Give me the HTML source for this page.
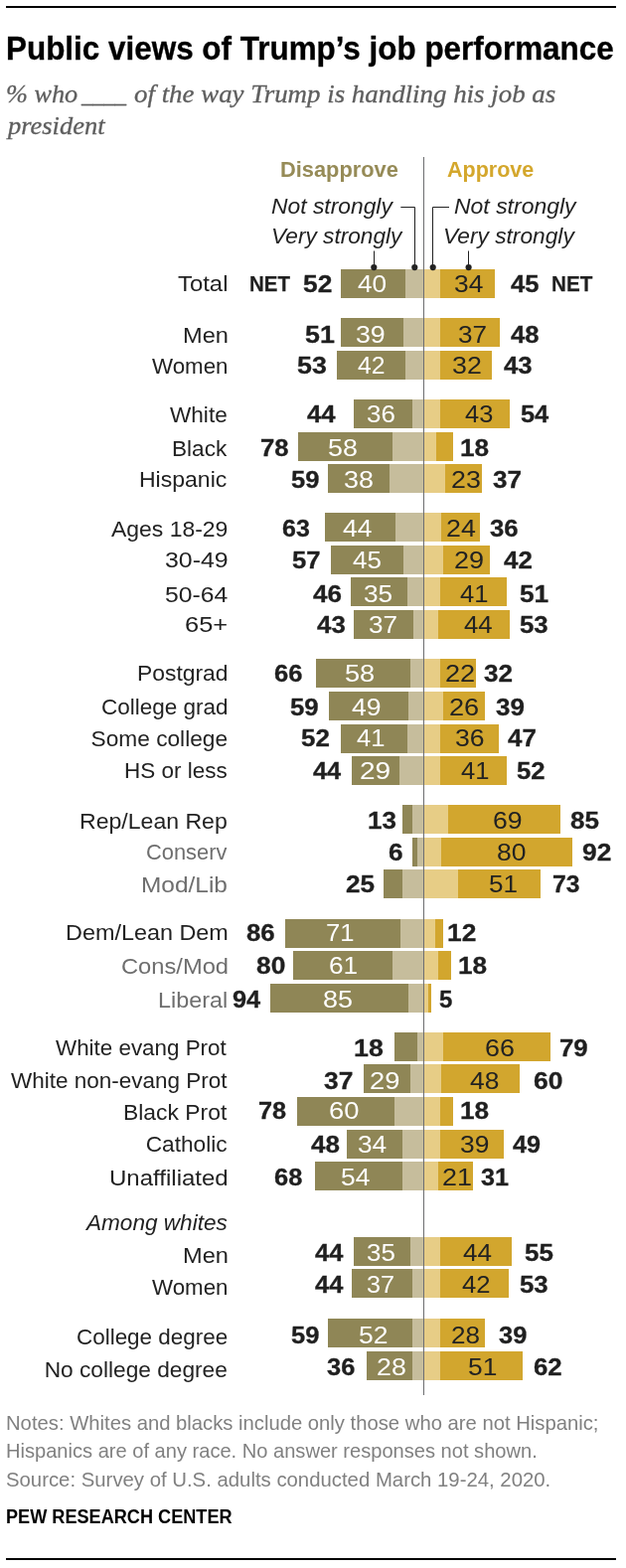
<!DOCTYPE html>
<html lang="en"><head><meta charset="utf-8"><title>Public views of Trump's job performance</title>
<style>
html,body{margin:0;padding:0;background:#fff}
#c{position:relative;width:630px;height:1578px;overflow:hidden;background:#fff;font-family:"Liberation Sans",sans-serif}
.t{position:absolute;white-space:nowrap;transform-origin:0 0}
.b{font-weight:bold}
.i{font-style:italic}
.sf{font-family:"Liberation Serif",serif}
.r{position:absolute}
svg{position:absolute;left:0;top:0}
</style></head><body><div id="c">
<div class="r" style="left:6.00px;top:6.00px;width:614.00px;height:2.00px;background:#000"></div>
<div class="r" style="left:6.00px;top:1568.00px;width:614.00px;height:2.00px;background:#000"></div>
<div class="t b" style="left:5.86px;top:30.24px;font-size:32.5px;line-height:39px;color:#000;transform:scaleX(0.9669);-webkit-text-stroke:0.35px #000;">Public views of Trump’s job performance</div>
<div class="t i sf" style="left:5.56px;top:80.13px;font-size:24.5px;line-height:29px;color:#5e5e5e;transform:scaleX(1.0721);-webkit-text-stroke:0.3px #5e5e5e;">% who</div>
<div class="t i sf" style="left:81.93px;top:80.13px;font-size:24.5px;line-height:29px;color:#5e5e5e;transform:scaleX(0.9214);-webkit-text-stroke:0.3px #5e5e5e;">____</div>
<div class="t i sf" style="left:134.89px;top:80.13px;font-size:24.5px;line-height:29px;color:#5e5e5e;transform:scaleX(1.0973);-webkit-text-stroke:0.3px #5e5e5e;">of the way Trump is handling his job as</div>
<div class="t i sf" style="left:7.89px;top:112.03px;font-size:24.5px;line-height:29px;color:#5e5e5e;transform:scaleX(1.0808);-webkit-text-stroke:0.3px #5e5e5e;">president</div>
<div class="t b" style="left:282.48px;top:157.82px;font-size:21.6px;line-height:26px;color:#968b57;transform:scaleX(1.0108);">Disapprove</div>
<div class="t b" style="left:450.46px;top:157.82px;font-size:21.6px;line-height:26px;color:#d4a72c;transform:scaleX(0.9966);">Approve</div>
<div class="t i" style="left:273.21px;top:194.88px;font-size:22px;line-height:26px;color:#222;transform:scaleX(1.0381);">Not strongly</div>
<div class="t i" style="left:273.27px;top:225.18px;font-size:22px;line-height:26px;color:#222;transform:scaleX(1.0305);">Very strongly</div>
<div class="t i" style="left:457.31px;top:194.88px;font-size:22px;line-height:26px;color:#222;transform:scaleX(1.0441);">Not strongly</div>
<div class="t i" style="left:446.07px;top:225.18px;font-size:22px;line-height:26px;color:#222;transform:scaleX(1.0329);">Very strongly</div>
<div class="t" style="left:179.12px;top:272.33px;font-size:22.7px;line-height:27px;color:#222;transform:scaleX(1.0529);">Total</div>
<div class="r" style="left:342.70px;top:270.65px;width:65.60px;height:29.00px;background:#8f8656"></div>
<div class="r" style="left:408.30px;top:270.65px;width:17.70px;height:29.00px;background:#c6bd9c"></div>
<div class="r" style="left:427.00px;top:270.65px;width:16.00px;height:29.00px;background:#e7cd86"></div>
<div class="r" style="left:443.00px;top:270.65px;width:55.30px;height:29.00px;background:#d2a62e"></div>
<div class="t b" style="left:304.81px;top:271.73px;font-size:23px;line-height:28px;color:#1f1f1f;transform:scaleX(1.1455);-webkit-text-stroke:0.3px #1f1f1f;">52</div>
<div class="t b" style="left:513.92px;top:271.73px;font-size:23px;line-height:28px;color:#1f1f1f;transform:scaleX(1.1134);-webkit-text-stroke:0.3px #1f1f1f;">45</div>
<div class="t" style="left:359.88px;top:271.73px;font-size:23px;line-height:28px;color:#fff;transform:scaleX(1.1374);">40</div>
<div class="t" style="left:457.25px;top:271.73px;font-size:23px;line-height:28px;color:#222;transform:scaleX(1.1455);">34</div>
<div class="t b" style="left:251.27px;top:273.15px;font-size:21.8px;line-height:26px;color:#1f1f1f;transform:scaleX(0.9389);-webkit-text-stroke:0.25px #1f1f1f;">NET</div>
<div class="t b" style="left:554.66px;top:273.15px;font-size:21.8px;line-height:26px;color:#1f1f1f;transform:scaleX(0.9460);-webkit-text-stroke:0.25px #1f1f1f;">NET</div>
<div class="t" style="left:183.61px;top:323.63px;font-size:22.7px;line-height:27px;color:#222;transform:scaleX(1.0401);">Men</div>
<div class="r" style="left:342.70px;top:320.35px;width:63.30px;height:29.00px;background:#8f8656"></div>
<div class="r" style="left:406.00px;top:320.35px;width:20.00px;height:29.00px;background:#c6bd9c"></div>
<div class="r" style="left:427.00px;top:320.35px;width:16.00px;height:29.00px;background:#e7cd86"></div>
<div class="r" style="left:443.00px;top:320.35px;width:59.70px;height:29.00px;background:#d2a62e"></div>
<div class="t b" style="left:306.90px;top:323.03px;font-size:23px;line-height:28px;color:#1f1f1f;transform:scaleX(1.1663);-webkit-text-stroke:0.3px #1f1f1f;">51</div>
<div class="t b" style="left:513.91px;top:323.03px;font-size:23px;line-height:28px;color:#1f1f1f;transform:scaleX(1.1186);-webkit-text-stroke:0.3px #1f1f1f;">48</div>
<div class="t" style="left:358.23px;top:323.03px;font-size:23px;line-height:28px;color:#fff;transform:scaleX(1.1622);">39</div>
<div class="t" style="left:460.66px;top:323.03px;font-size:23px;line-height:28px;color:#222;transform:scaleX(1.1338);">37</div>
<div class="t" style="left:152.99px;top:355.03px;font-size:22.7px;line-height:27px;color:#222;transform:scaleX(0.9835);">Women</div>
<div class="r" style="left:339.30px;top:352.95px;width:69.00px;height:29.00px;background:#8f8656"></div>
<div class="r" style="left:408.30px;top:352.95px;width:17.70px;height:29.00px;background:#c6bd9c"></div>
<div class="r" style="left:427.00px;top:352.95px;width:16.00px;height:29.00px;background:#e7cd86"></div>
<div class="r" style="left:443.00px;top:352.95px;width:52.00px;height:29.00px;background:#d2a62e"></div>
<div class="t b" style="left:298.50px;top:354.43px;font-size:23px;line-height:28px;color:#1f1f1f;transform:scaleX(1.1650);-webkit-text-stroke:0.3px #1f1f1f;">53</div>
<div class="t b" style="left:507.31px;top:354.43px;font-size:23px;line-height:28px;color:#1f1f1f;transform:scaleX(1.1198);-webkit-text-stroke:0.3px #1f1f1f;">43</div>
<div class="t" style="left:359.51px;top:354.43px;font-size:23px;line-height:28px;color:#fff;transform:scaleX(1.0744);">42</div>
<div class="t" style="left:454.93px;top:354.43px;font-size:23px;line-height:28px;color:#222;transform:scaleX(1.1637);">32</div>
<div class="t" style="left:171.29px;top:403.63px;font-size:22.7px;line-height:27px;color:#222;transform:scaleX(0.9954);">White</div>
<div class="r" style="left:356.00px;top:401.95px;width:59.00px;height:29.00px;background:#8f8656"></div>
<div class="r" style="left:415.00px;top:401.95px;width:11.00px;height:29.00px;background:#c6bd9c"></div>
<div class="r" style="left:427.00px;top:401.95px;width:16.00px;height:29.00px;background:#e7cd86"></div>
<div class="r" style="left:443.00px;top:401.95px;width:69.70px;height:29.00px;background:#d2a62e"></div>
<div class="t b" style="left:308.91px;top:403.03px;font-size:23px;line-height:28px;color:#1f1f1f;transform:scaleX(1.1169);-webkit-text-stroke:0.3px #1f1f1f;">44</div>
<div class="t b" style="left:524.24px;top:403.03px;font-size:23px;line-height:28px;color:#1f1f1f;transform:scaleX(1.1041);-webkit-text-stroke:0.3px #1f1f1f;">54</div>
<div class="t" style="left:368.96px;top:403.03px;font-size:23px;line-height:28px;color:#fff;transform:scaleX(1.1271);">36</div>
<div class="t" style="left:468.49px;top:403.03px;font-size:23px;line-height:28px;color:#222;transform:scaleX(1.1056);">43</div>
<div class="t" style="left:172.69px;top:437.63px;font-size:22.7px;line-height:27px;color:#222;transform:scaleX(0.9965);">Black</div>
<div class="r" style="left:300.00px;top:434.65px;width:95.00px;height:29.00px;background:#8f8656"></div>
<div class="r" style="left:395.00px;top:434.65px;width:31.00px;height:29.00px;background:#c6bd9c"></div>
<div class="r" style="left:427.00px;top:434.65px;width:12.30px;height:29.00px;background:#e7cd86"></div>
<div class="r" style="left:439.30px;top:434.65px;width:16.40px;height:29.00px;background:#d2a62e"></div>
<div class="t b" style="left:262.27px;top:437.03px;font-size:23px;line-height:28px;color:#1f1f1f;transform:scaleX(1.1162);-webkit-text-stroke:0.3px #1f1f1f;">78</div>
<div class="t b" style="left:463.43px;top:437.03px;font-size:23px;line-height:28px;color:#1f1f1f;transform:scaleX(1.1381);-webkit-text-stroke:0.3px #1f1f1f;">18</div>
<div class="t" style="left:329.63px;top:437.03px;font-size:23px;line-height:28px;color:#fff;transform:scaleX(1.1650);">58</div>
<div class="t" style="left:140.26px;top:469.33px;font-size:22.7px;line-height:27px;color:#222;transform:scaleX(1.0145);">Hispanic</div>
<div class="r" style="left:330.00px;top:467.35px;width:62.30px;height:29.00px;background:#8f8656"></div>
<div class="r" style="left:392.30px;top:467.35px;width:33.70px;height:29.00px;background:#c6bd9c"></div>
<div class="r" style="left:427.00px;top:467.35px;width:20.70px;height:29.00px;background:#e7cd86"></div>
<div class="r" style="left:447.70px;top:467.35px;width:37.30px;height:29.00px;background:#d2a62e"></div>
<div class="t b" style="left:293.23px;top:468.73px;font-size:23px;line-height:28px;color:#1f1f1f;transform:scaleX(1.1109);-webkit-text-stroke:0.3px #1f1f1f;">59</div>
<div class="t b" style="left:496.05px;top:468.73px;font-size:23px;line-height:28px;color:#1f1f1f;transform:scaleX(1.1358);-webkit-text-stroke:0.3px #1f1f1f;">37</div>
<div class="t" style="left:346.22px;top:468.73px;font-size:23px;line-height:28px;color:#fff;transform:scaleX(1.1693);">38</div>
<div class="t" style="left:453.66px;top:468.73px;font-size:23px;line-height:28px;color:#222;transform:scaleX(1.1637);">23</div>
<div class="t" style="left:111.60px;top:518.63px;font-size:22.7px;line-height:27px;color:#222;transform:scaleX(1.0114);">Ages 18-29</div>
<div class="r" style="left:326.70px;top:516.35px;width:71.00px;height:29.00px;background:#8f8656"></div>
<div class="r" style="left:397.70px;top:516.35px;width:28.30px;height:29.00px;background:#c6bd9c"></div>
<div class="r" style="left:427.00px;top:516.35px;width:17.30px;height:29.00px;background:#e7cd86"></div>
<div class="r" style="left:444.30px;top:516.35px;width:39.00px;height:29.00px;background:#d2a62e"></div>
<div class="t b" style="left:284.12px;top:518.03px;font-size:23px;line-height:28px;color:#1f1f1f;transform:scaleX(1.0870);-webkit-text-stroke:0.3px #1f1f1f;">63</div>
<div class="t b" style="left:493.36px;top:518.03px;font-size:23px;line-height:28px;color:#1f1f1f;transform:scaleX(1.1180);-webkit-text-stroke:0.3px #1f1f1f;">36</div>
<div class="t" style="left:345.47px;top:518.03px;font-size:23px;line-height:28px;color:#fff;transform:scaleX(1.1485);">44</div>
<div class="t" style="left:449.36px;top:518.03px;font-size:23px;line-height:28px;color:#222;transform:scaleX(1.1650);">24</div>
<div class="t" style="left:165.50px;top:550.33px;font-size:22.7px;line-height:27px;color:#222;transform:scaleX(1.0969);">30-49</div>
<div class="r" style="left:333.30px;top:548.65px;width:72.70px;height:29.00px;background:#8f8656"></div>
<div class="r" style="left:406.00px;top:548.65px;width:20.00px;height:29.00px;background:#c6bd9c"></div>
<div class="r" style="left:427.00px;top:548.65px;width:19.00px;height:29.00px;background:#e7cd86"></div>
<div class="r" style="left:446.00px;top:548.65px;width:47.30px;height:29.00px;background:#d2a62e"></div>
<div class="t b" style="left:294.23px;top:549.73px;font-size:23px;line-height:28px;color:#1f1f1f;transform:scaleX(1.1162);-webkit-text-stroke:0.3px #1f1f1f;">57</div>
<div class="t b" style="left:507.31px;top:549.73px;font-size:23px;line-height:28px;color:#1f1f1f;transform:scaleX(1.1251);-webkit-text-stroke:0.3px #1f1f1f;">42</div>
<div class="t" style="left:355.48px;top:549.73px;font-size:23px;line-height:28px;color:#fff;transform:scaleX(1.1304);">45</div>
<div class="t" style="left:456.95px;top:549.73px;font-size:23px;line-height:28px;color:#222;transform:scaleX(1.1737);">29</div>
<div class="t" style="left:165.51px;top:584.83px;font-size:22.7px;line-height:27px;color:#222;transform:scaleX(1.0902);">50-64</div>
<div class="r" style="left:352.70px;top:581.35px;width:57.30px;height:29.00px;background:#8f8656"></div>
<div class="r" style="left:410.00px;top:581.35px;width:16.00px;height:29.00px;background:#c6bd9c"></div>
<div class="r" style="left:427.00px;top:581.35px;width:16.00px;height:29.00px;background:#e7cd86"></div>
<div class="r" style="left:443.00px;top:581.35px;width:67.00px;height:29.00px;background:#d2a62e"></div>
<div class="t b" style="left:315.31px;top:584.23px;font-size:23px;line-height:28px;color:#1f1f1f;transform:scaleX(1.1321);-webkit-text-stroke:0.3px #1f1f1f;">46</div>
<div class="t b" style="left:523.21px;top:584.23px;font-size:23px;line-height:28px;color:#1f1f1f;transform:scaleX(1.1416);-webkit-text-stroke:0.3px #1f1f1f;">51</div>
<div class="t" style="left:366.25px;top:584.23px;font-size:23px;line-height:28px;color:#fff;transform:scaleX(1.1397);">35</div>
<div class="t" style="left:463.49px;top:584.23px;font-size:23px;line-height:28px;color:#222;transform:scaleX(1.1109);">41</div>
<div class="t" style="left:186.13px;top:615.33px;font-size:22.7px;line-height:27px;color:#222;transform:scaleX(1.1213);">65+</div>
<div class="r" style="left:356.00px;top:613.95px;width:60.00px;height:29.00px;background:#8f8656"></div>
<div class="r" style="left:416.00px;top:613.95px;width:10.00px;height:29.00px;background:#c6bd9c"></div>
<div class="r" style="left:427.00px;top:613.95px;width:13.70px;height:29.00px;background:#e7cd86"></div>
<div class="r" style="left:440.70px;top:613.95px;width:72.00px;height:29.00px;background:#d2a62e"></div>
<div class="t b" style="left:318.91px;top:614.73px;font-size:23px;line-height:28px;color:#1f1f1f;transform:scaleX(1.1239);-webkit-text-stroke:0.3px #1f1f1f;">43</div>
<div class="t b" style="left:523.22px;top:614.73px;font-size:23px;line-height:28px;color:#1f1f1f;transform:scaleX(1.1234);-webkit-text-stroke:0.3px #1f1f1f;">53</div>
<div class="t" style="left:370.66px;top:614.73px;font-size:23px;line-height:28px;color:#fff;transform:scaleX(1.1338);">37</div>
<div class="t" style="left:467.18px;top:614.73px;font-size:23px;line-height:28px;color:#222;transform:scaleX(1.1198);">44</div>
<div class="t" style="left:137.97px;top:664.33px;font-size:22.7px;line-height:27px;color:#222;transform:scaleX(1.0079);">Postgrad</div>
<div class="r" style="left:318.30px;top:662.95px;width:95.00px;height:29.00px;background:#8f8656"></div>
<div class="r" style="left:413.30px;top:662.95px;width:12.70px;height:29.00px;background:#c6bd9c"></div>
<div class="r" style="left:427.00px;top:662.95px;width:16.00px;height:29.00px;background:#e7cd86"></div>
<div class="r" style="left:443.00px;top:662.95px;width:36.00px;height:29.00px;background:#d2a62e"></div>
<div class="t b" style="left:275.80px;top:663.73px;font-size:23px;line-height:28px;color:#1f1f1f;transform:scaleX(1.1120);-webkit-text-stroke:0.3px #1f1f1f;">66</div>
<div class="t b" style="left:487.05px;top:663.73px;font-size:23px;line-height:28px;color:#1f1f1f;transform:scaleX(1.1358);-webkit-text-stroke:0.3px #1f1f1f;">32</div>
<div class="t" style="left:346.61px;top:663.73px;font-size:23px;line-height:28px;color:#fff;transform:scaleX(1.1819);">58</div>
<div class="t" style="left:447.94px;top:663.73px;font-size:23px;line-height:28px;color:#222;transform:scaleX(1.1795);">22</div>
<div class="t" style="left:101.77px;top:698.43px;font-size:22.7px;line-height:27px;color:#222;transform:scaleX(0.9921);">College grad</div>
<div class="r" style="left:331.20px;top:695.65px;width:80.00px;height:29.00px;background:#8f8656"></div>
<div class="r" style="left:411.20px;top:695.65px;width:14.80px;height:29.00px;background:#c6bd9c"></div>
<div class="r" style="left:427.00px;top:695.65px;width:19.00px;height:29.00px;background:#e7cd86"></div>
<div class="r" style="left:446.00px;top:695.65px;width:42.30px;height:29.00px;background:#d2a62e"></div>
<div class="t b" style="left:291.52px;top:697.83px;font-size:23px;line-height:28px;color:#1f1f1f;transform:scaleX(1.1234);-webkit-text-stroke:0.3px #1f1f1f;">59</div>
<div class="t b" style="left:499.35px;top:697.83px;font-size:23px;line-height:28px;color:#1f1f1f;transform:scaleX(1.1304);-webkit-text-stroke:0.3px #1f1f1f;">39</div>
<div class="t" style="left:354.47px;top:697.83px;font-size:23px;line-height:28px;color:#fff;transform:scaleX(1.1525);">49</div>
<div class="t" style="left:451.94px;top:697.83px;font-size:23px;line-height:28px;color:#222;transform:scaleX(1.1807);">26</div>
<div class="t" style="left:91.58px;top:729.93px;font-size:22.7px;line-height:27px;color:#222;">Some college</div>
<div class="r" style="left:343.30px;top:728.65px;width:66.70px;height:29.00px;background:#8f8656"></div>
<div class="r" style="left:410.00px;top:728.65px;width:16.00px;height:29.00px;background:#c6bd9c"></div>
<div class="r" style="left:427.00px;top:728.65px;width:16.30px;height:29.00px;background:#e7cd86"></div>
<div class="r" style="left:443.30px;top:728.65px;width:58.40px;height:29.00px;background:#d2a62e"></div>
<div class="t b" style="left:303.22px;top:729.33px;font-size:23px;line-height:28px;color:#1f1f1f;transform:scaleX(1.1288);-webkit-text-stroke:0.3px #1f1f1f;">52</div>
<div class="t b" style="left:511.31px;top:729.33px;font-size:23px;line-height:28px;color:#1f1f1f;transform:scaleX(1.1251);-webkit-text-stroke:0.3px #1f1f1f;">47</div>
<div class="t" style="left:359.49px;top:729.33px;font-size:23px;line-height:28px;color:#fff;transform:scaleX(1.1109);">41</div>
<div class="t" style="left:458.24px;top:729.33px;font-size:23px;line-height:28px;color:#222;transform:scaleX(1.1566);">36</div>
<div class="t" style="left:125.10px;top:762.13px;font-size:22.7px;line-height:27px;color:#222;transform:scaleX(0.9908);">HS or less</div>
<div class="r" style="left:354.30px;top:761.35px;width:47.40px;height:29.00px;background:#8f8656"></div>
<div class="r" style="left:401.70px;top:761.35px;width:24.30px;height:29.00px;background:#c6bd9c"></div>
<div class="r" style="left:427.00px;top:761.35px;width:16.00px;height:29.00px;background:#e7cd86"></div>
<div class="r" style="left:443.00px;top:761.35px;width:67.00px;height:29.00px;background:#d2a62e"></div>
<div class="t b" style="left:315.32px;top:762.33px;font-size:23px;line-height:28px;color:#1f1f1f;transform:scaleX(1.1009);-webkit-text-stroke:0.3px #1f1f1f;">44</div>
<div class="t b" style="left:520.23px;top:762.33px;font-size:23px;line-height:28px;color:#1f1f1f;transform:scaleX(1.1162);-webkit-text-stroke:0.3px #1f1f1f;">52</div>
<div class="t" style="left:361.90px;top:762.33px;font-size:23px;line-height:28px;color:#fff;transform:scaleX(1.2165);">29</div>
<div class="t" style="left:464.49px;top:762.33px;font-size:23px;line-height:28px;color:#222;transform:scaleX(1.1109);">41</div>
<div class="t" style="left:80.05px;top:812.63px;font-size:22.7px;line-height:27px;color:#222;transform:scaleX(1.0168);">Rep/Lean Rep</div>
<div class="r" style="left:405.00px;top:810.35px;width:10.00px;height:29.00px;background:#8f8656"></div>
<div class="r" style="left:415.00px;top:810.35px;width:11.00px;height:29.00px;background:#c6bd9c"></div>
<div class="r" style="left:427.00px;top:810.35px;width:24.00px;height:29.00px;background:#e7cd86"></div>
<div class="r" style="left:451.00px;top:810.35px;width:113.00px;height:29.00px;background:#d2a62e"></div>
<div class="t b" style="left:369.74px;top:812.03px;font-size:23px;line-height:28px;color:#1f1f1f;transform:scaleX(1.1309);-webkit-text-stroke:0.3px #1f1f1f;">13</div>
<div class="t b" style="left:574.22px;top:812.03px;font-size:23px;line-height:28px;color:#1f1f1f;transform:scaleX(1.1333);-webkit-text-stroke:0.3px #1f1f1f;">85</div>
<div class="t" style="left:495.97px;top:812.03px;font-size:23px;line-height:28px;color:#222;transform:scaleX(1.1566);">69</div>
<div class="t" style="left:146.71px;top:844.23px;font-size:22.7px;line-height:27px;color:#6e6e6e;transform:scaleX(0.9627);">Conserv</div>
<div class="r" style="left:415.00px;top:842.95px;width:5.00px;height:29.00px;background:#8f8656"></div>
<div class="r" style="left:420.00px;top:842.95px;width:6.00px;height:29.00px;background:#c6bd9c"></div>
<div class="r" style="left:427.00px;top:842.95px;width:17.30px;height:29.00px;background:#e7cd86"></div>
<div class="r" style="left:444.30px;top:842.95px;width:131.40px;height:29.00px;background:#d2a62e"></div>
<div class="t b" style="left:391.38px;top:843.63px;font-size:23px;line-height:28px;color:#1f1f1f;transform:scaleX(1.1385);-webkit-text-stroke:0.3px #1f1f1f;">6</div>
<div class="t b" style="left:585.78px;top:843.63px;font-size:23px;line-height:28px;color:#1f1f1f;transform:scaleX(1.1468);-webkit-text-stroke:0.3px #1f1f1f;">92</div>
<div class="t" style="left:499.81px;top:843.63px;font-size:23px;line-height:28px;color:#222;transform:scaleX(1.1524);">80</div>
<div class="t" style="left:142.04px;top:876.63px;font-size:22.7px;line-height:27px;color:#6e6e6e;transform:scaleX(1.0773);">Mod/Lib</div>
<div class="r" style="left:385.70px;top:875.35px;width:19.30px;height:29.00px;background:#8f8656"></div>
<div class="r" style="left:405.00px;top:875.35px;width:21.00px;height:29.00px;background:#c6bd9c"></div>
<div class="r" style="left:427.00px;top:875.35px;width:34.00px;height:29.00px;background:#e7cd86"></div>
<div class="r" style="left:461.00px;top:875.35px;width:83.30px;height:29.00px;background:#d2a62e"></div>
<div class="t b" style="left:348.39px;top:876.03px;font-size:23px;line-height:28px;color:#1f1f1f;transform:scaleX(1.1346);-webkit-text-stroke:0.3px #1f1f1f;">25</div>
<div class="t b" style="left:555.71px;top:876.03px;font-size:23px;line-height:28px;color:#1f1f1f;transform:scaleX(1.0754);-webkit-text-stroke:0.3px #1f1f1f;">73</div>
<div class="t" style="left:492.26px;top:876.03px;font-size:23px;line-height:28px;color:#222;transform:scaleX(1.1326);">51</div>
<div class="t" style="left:65.53px;top:925.33px;font-size:22.7px;line-height:27px;color:#222;transform:scaleX(1.0313);">Dem/Lean Dem</div>
<div class="r" style="left:287.30px;top:924.65px;width:115.40px;height:29.00px;background:#8f8656"></div>
<div class="r" style="left:402.70px;top:924.65px;width:23.30px;height:29.00px;background:#c6bd9c"></div>
<div class="r" style="left:427.00px;top:924.65px;width:11.30px;height:29.00px;background:#e7cd86"></div>
<div class="r" style="left:438.30px;top:924.65px;width:7.40px;height:29.00px;background:#d2a62e"></div>
<div class="t b" style="left:248.22px;top:924.73px;font-size:23px;line-height:28px;color:#1f1f1f;transform:scaleX(1.1234);-webkit-text-stroke:0.3px #1f1f1f;">86</div>
<div class="t b" style="left:450.12px;top:924.73px;font-size:23px;line-height:28px;color:#1f1f1f;transform:scaleX(1.1451);-webkit-text-stroke:0.3px #1f1f1f;">12</div>
<div class="t" style="left:327.72px;top:924.73px;font-size:23px;line-height:28px;color:#fff;transform:scaleX(1.1137);">71</div>
<div class="t" style="left:121.51px;top:958.83px;font-size:22.7px;line-height:27px;color:#6e6e6e;transform:scaleX(1.0448);">Cons/Mod</div>
<div class="r" style="left:295.10px;top:956.95px;width:99.90px;height:29.00px;background:#8f8656"></div>
<div class="r" style="left:395.00px;top:956.95px;width:31.00px;height:29.00px;background:#c6bd9c"></div>
<div class="r" style="left:427.00px;top:956.95px;width:13.70px;height:29.00px;background:#e7cd86"></div>
<div class="r" style="left:440.70px;top:956.95px;width:13.30px;height:29.00px;background:#d2a62e"></div>
<div class="t b" style="left:257.51px;top:958.23px;font-size:23px;line-height:28px;color:#1f1f1f;transform:scaleX(1.1455);-webkit-text-stroke:0.3px #1f1f1f;">80</div>
<div class="t b" style="left:460.73px;top:958.23px;font-size:23px;line-height:28px;color:#1f1f1f;transform:scaleX(1.1381);-webkit-text-stroke:0.3px #1f1f1f;">18</div>
<div class="t" style="left:331.39px;top:958.23px;font-size:23px;line-height:28px;color:#fff;transform:scaleX(1.1394);">61</div>
<div class="t" style="left:159.33px;top:992.73px;font-size:22.7px;line-height:27px;color:#6e6e6e;transform:scaleX(1.0307);">Liberal</div>
<div class="r" style="left:272.30px;top:989.65px;width:138.80px;height:29.00px;background:#8f8656"></div>
<div class="r" style="left:411.10px;top:989.65px;width:14.90px;height:29.00px;background:#c6bd9c"></div>
<div class="r" style="left:427.00px;top:989.65px;width:4.30px;height:29.00px;background:#e7cd86"></div>
<div class="r" style="left:431.30px;top:989.65px;width:3.00px;height:29.00px;background:#d2a62e"></div>
<div class="t b" style="left:234.31px;top:992.13px;font-size:23px;line-height:28px;color:#1f1f1f;transform:scaleX(1.1012);-webkit-text-stroke:0.3px #1f1f1f;">94</div>
<div class="t b" style="left:442.28px;top:992.13px;font-size:23px;line-height:28px;color:#1f1f1f;transform:scaleX(1.0435);-webkit-text-stroke:0.3px #1f1f1f;">5</div>
<div class="t" style="left:325.49px;top:992.13px;font-size:23px;line-height:28px;color:#fff;transform:scaleX(1.1707);">85</div>
<div class="t" style="left:56.29px;top:1041.23px;font-size:22.7px;line-height:27px;color:#222;transform:scaleX(0.9869);">White evang Prot</div>
<div class="r" style="left:397.30px;top:1038.65px;width:22.70px;height:29.00px;background:#8f8656"></div>
<div class="r" style="left:420.00px;top:1038.65px;width:6.00px;height:29.00px;background:#c6bd9c"></div>
<div class="r" style="left:427.00px;top:1038.65px;width:19.00px;height:29.00px;background:#e7cd86"></div>
<div class="r" style="left:446.00px;top:1038.65px;width:108.00px;height:29.00px;background:#d2a62e"></div>
<div class="t b" style="left:356.09px;top:1040.63px;font-size:23px;line-height:28px;color:#1f1f1f;transform:scaleX(1.1637);-webkit-text-stroke:0.3px #1f1f1f;">18</div>
<div class="t b" style="left:562.97px;top:1040.63px;font-size:23px;line-height:28px;color:#1f1f1f;transform:scaleX(1.1216);-webkit-text-stroke:0.3px #1f1f1f;">79</div>
<div class="t" style="left:487.96px;top:1040.63px;font-size:23px;line-height:28px;color:#222;transform:scaleX(1.1679);">66</div>
<div class="t" style="left:10.59px;top:1074.23px;font-size:22.7px;line-height:27px;color:#222;transform:scaleX(0.9910);">White non-evang Prot</div>
<div class="r" style="left:366.00px;top:1071.35px;width:47.30px;height:29.00px;background:#8f8656"></div>
<div class="r" style="left:413.30px;top:1071.35px;width:12.70px;height:29.00px;background:#c6bd9c"></div>
<div class="r" style="left:427.00px;top:1071.35px;width:17.30px;height:29.00px;background:#e7cd86"></div>
<div class="r" style="left:444.30px;top:1071.35px;width:78.40px;height:29.00px;background:#d2a62e"></div>
<div class="t b" style="left:326.04px;top:1074.03px;font-size:23px;line-height:28px;color:#1f1f1f;transform:scaleX(1.1483);-webkit-text-stroke:0.3px #1f1f1f;">37</div>
<div class="t b" style="left:537.37px;top:1074.03px;font-size:23px;line-height:28px;color:#1f1f1f;transform:scaleX(1.1510);-webkit-text-stroke:0.3px #1f1f1f;">60</div>
<div class="t" style="left:371.94px;top:1074.03px;font-size:23px;line-height:28px;color:#fff;transform:scaleX(1.1865);">29</div>
<div class="t" style="left:472.77px;top:1074.03px;font-size:23px;line-height:28px;color:#222;transform:scaleX(1.1470);">48</div>
<div class="t" style="left:123.87px;top:1105.63px;font-size:22.7px;line-height:27px;color:#222;transform:scaleX(1.0082);">Black Prot</div>
<div class="r" style="left:299.00px;top:1103.95px;width:97.70px;height:29.00px;background:#8f8656"></div>
<div class="r" style="left:396.70px;top:1103.95px;width:29.30px;height:29.00px;background:#c6bd9c"></div>
<div class="r" style="left:427.00px;top:1103.95px;width:16.00px;height:29.00px;background:#e7cd86"></div>
<div class="r" style="left:443.00px;top:1103.95px;width:12.70px;height:29.00px;background:#d2a62e"></div>
<div class="t b" style="left:259.99px;top:1104.43px;font-size:23px;line-height:28px;color:#1f1f1f;transform:scaleX(1.0995);-webkit-text-stroke:0.3px #1f1f1f;">78</div>
<div class="t b" style="left:463.43px;top:1104.43px;font-size:23px;line-height:28px;color:#1f1f1f;transform:scaleX(1.1381);-webkit-text-stroke:0.3px #1f1f1f;">18</div>
<div class="t" style="left:331.33px;top:1104.43px;font-size:23px;line-height:28px;color:#fff;transform:scaleX(1.1877);">60</div>
<div class="t" style="left:146.67px;top:1137.53px;font-size:22.7px;line-height:27px;color:#222;">Catholic</div>
<div class="r" style="left:349.30px;top:1136.95px;width:55.70px;height:29.00px;background:#8f8656"></div>
<div class="r" style="left:405.00px;top:1136.95px;width:21.00px;height:29.00px;background:#c6bd9c"></div>
<div class="r" style="left:427.00px;top:1136.95px;width:16.00px;height:29.00px;background:#e7cd86"></div>
<div class="r" style="left:443.00px;top:1136.95px;width:63.70px;height:29.00px;background:#d2a62e"></div>
<div class="t b" style="left:312.91px;top:1137.83px;font-size:23px;line-height:28px;color:#1f1f1f;transform:scaleX(1.1308);-webkit-text-stroke:0.3px #1f1f1f;">48</div>
<div class="t b" style="left:515.62px;top:1137.83px;font-size:23px;line-height:28px;color:#1f1f1f;transform:scaleX(1.0952);-webkit-text-stroke:0.3px #1f1f1f;">49</div>
<div class="t" style="left:359.95px;top:1137.83px;font-size:23px;line-height:28px;color:#fff;transform:scaleX(1.1413);">34</div>
<div class="t" style="left:462.95px;top:1137.83px;font-size:23px;line-height:28px;color:#222;transform:scaleX(1.1453);">39</div>
<div class="t" style="left:109.80px;top:1172.23px;font-size:22.7px;line-height:27px;color:#222;transform:scaleX(1.0584);">Unaffiliated</div>
<div class="r" style="left:316.70px;top:1169.35px;width:88.30px;height:29.00px;background:#8f8656"></div>
<div class="r" style="left:405.00px;top:1169.35px;width:21.00px;height:29.00px;background:#c6bd9c"></div>
<div class="r" style="left:427.00px;top:1169.35px;width:13.70px;height:29.00px;background:#e7cd86"></div>
<div class="r" style="left:440.70px;top:1169.35px;width:35.00px;height:29.00px;background:#d2a62e"></div>
<div class="t b" style="left:275.81px;top:1170.73px;font-size:23px;line-height:28px;color:#1f1f1f;transform:scaleX(1.1067);-webkit-text-stroke:0.3px #1f1f1f;">68</div>
<div class="t b" style="left:483.67px;top:1170.73px;font-size:23px;line-height:28px;color:#1f1f1f;transform:scaleX(1.0952);-webkit-text-stroke:0.3px #1f1f1f;">31</div>
<div class="t" style="left:343.25px;top:1170.73px;font-size:23px;line-height:28px;color:#fff;transform:scaleX(1.1455);">54</div>
<div class="t" style="left:444.66px;top:1170.73px;font-size:23px;line-height:28px;color:#222;transform:scaleX(1.1694);">21</div>
<div class="t" style="left:183.61px;top:1249.63px;font-size:22.7px;line-height:27px;color:#222;transform:scaleX(1.0401);">Men</div>
<div class="r" style="left:356.00px;top:1244.65px;width:57.30px;height:29.00px;background:#8f8656"></div>
<div class="r" style="left:413.30px;top:1244.65px;width:12.70px;height:29.00px;background:#c6bd9c"></div>
<div class="r" style="left:427.00px;top:1244.65px;width:16.00px;height:29.00px;background:#e7cd86"></div>
<div class="r" style="left:443.00px;top:1244.65px;width:72.00px;height:29.00px;background:#d2a62e"></div>
<div class="t b" style="left:316.92px;top:1247.43px;font-size:23px;line-height:28px;color:#1f1f1f;transform:scaleX(1.1049);-webkit-text-stroke:0.3px #1f1f1f;">44</div>
<div class="t b" style="left:527.52px;top:1247.43px;font-size:23px;line-height:28px;color:#1f1f1f;transform:scaleX(1.1292);-webkit-text-stroke:0.3px #1f1f1f;">55</div>
<div class="t" style="left:368.96px;top:1247.43px;font-size:23px;line-height:28px;color:#fff;transform:scaleX(1.1271);">35</div>
<div class="t" style="left:466.18px;top:1247.43px;font-size:23px;line-height:28px;color:#222;transform:scaleX(1.1321);">44</div>
<div class="t" style="left:152.99px;top:1281.93px;font-size:22.7px;line-height:27px;color:#222;transform:scaleX(0.9835);">Women</div>
<div class="r" style="left:354.30px;top:1277.35px;width:60.70px;height:29.00px;background:#8f8656"></div>
<div class="r" style="left:415.00px;top:1277.35px;width:11.00px;height:29.00px;background:#c6bd9c"></div>
<div class="r" style="left:427.00px;top:1277.35px;width:16.00px;height:29.00px;background:#e7cd86"></div>
<div class="r" style="left:443.00px;top:1277.35px;width:68.70px;height:29.00px;background:#d2a62e"></div>
<div class="t b" style="left:316.92px;top:1279.33px;font-size:23px;line-height:28px;color:#1f1f1f;transform:scaleX(1.1049);-webkit-text-stroke:0.3px #1f1f1f;">44</div>
<div class="t b" style="left:523.22px;top:1279.33px;font-size:23px;line-height:28px;color:#1f1f1f;transform:scaleX(1.1234);-webkit-text-stroke:0.3px #1f1f1f;">53</div>
<div class="t" style="left:368.99px;top:1279.33px;font-size:23px;line-height:28px;color:#fff;transform:scaleX(1.0955);">37</div>
<div class="t" style="left:465.49px;top:1279.33px;font-size:23px;line-height:28px;color:#222;transform:scaleX(1.1162);">42</div>
<div class="t" style="left:76.88px;top:1332.23px;font-size:22.7px;line-height:27px;color:#222;transform:scaleX(0.9885);">College degree</div>
<div class="r" style="left:330.00px;top:1326.95px;width:85.00px;height:29.00px;background:#8f8656"></div>
<div class="r" style="left:415.00px;top:1326.95px;width:11.00px;height:29.00px;background:#c6bd9c"></div>
<div class="r" style="left:427.00px;top:1326.95px;width:16.00px;height:29.00px;background:#e7cd86"></div>
<div class="r" style="left:443.00px;top:1326.95px;width:45.30px;height:29.00px;background:#d2a62e"></div>
<div class="t b" style="left:293.23px;top:1329.63px;font-size:23px;line-height:28px;color:#1f1f1f;transform:scaleX(1.1109);-webkit-text-stroke:0.3px #1f1f1f;">59</div>
<div class="t b" style="left:501.66px;top:1329.63px;font-size:23px;line-height:28px;color:#1f1f1f;transform:scaleX(1.1056);-webkit-text-stroke:0.3px #1f1f1f;">39</div>
<div class="t" style="left:361.24px;top:1329.63px;font-size:23px;line-height:28px;color:#fff;transform:scaleX(1.1509);">52</div>
<div class="t" style="left:454.40px;top:1329.63px;font-size:23px;line-height:28px;color:#222;transform:scaleX(1.1338);">28</div>
<div class="t" style="left:44.68px;top:1364.83px;font-size:22.7px;line-height:27px;color:#222;">No college degree</div>
<div class="r" style="left:369.00px;top:1359.65px;width:46.00px;height:29.00px;background:#8f8656"></div>
<div class="r" style="left:415.00px;top:1359.65px;width:11.00px;height:29.00px;background:#c6bd9c"></div>
<div class="r" style="left:427.00px;top:1359.65px;width:16.00px;height:29.00px;background:#e7cd86"></div>
<div class="r" style="left:443.00px;top:1359.65px;width:83.00px;height:29.00px;background:#d2a62e"></div>
<div class="t b" style="left:329.36px;top:1361.63px;font-size:23px;line-height:28px;color:#1f1f1f;transform:scaleX(1.1056);-webkit-text-stroke:0.3px #1f1f1f;">36</div>
<div class="t b" style="left:537.40px;top:1361.63px;font-size:23px;line-height:28px;color:#1f1f1f;transform:scaleX(1.1216);-webkit-text-stroke:0.3px #1f1f1f;">62</div>
<div class="t" style="left:378.66px;top:1361.63px;font-size:23px;line-height:28px;color:#fff;transform:scaleX(1.1637);">28</div>
<div class="t" style="left:471.25px;top:1361.63px;font-size:23px;line-height:28px;color:#222;transform:scaleX(1.1453);">51</div>
<div class="t i" style="left:86.83px;top:1217.23px;font-size:22.7px;line-height:27px;color:#222;transform:scaleX(0.9949);">Among whites</div>
<div class="r" style="left:426.00px;top:158.00px;width:1.00px;height:1245.80px;background:#6d6e70"></div>
<svg width="630" height="320" viewBox="0 0 630 320" fill="none" stroke="#222" stroke-width="1">
<path d="M376.5 252.5V269M403.3 208.5H417.5V269M452 208.5H435.5V269M471.5 252.5V269"/>
<g fill="#222" stroke="none"><circle cx="376.3" cy="269.1" r="3.1"/><circle cx="417.3" cy="269.1" r="3.1"/><circle cx="435.7" cy="269.1" r="3.1"/><circle cx="471.6" cy="269.1" r="3.1"/></g>
</svg>
<div class="t" style="left:5.68px;top:1420.44px;font-size:19.8px;line-height:24px;color:#808080;transform:scaleX(1.0235);">Notes: Whites and blacks include only those who are not Hispanic;</div>
<div class="t" style="left:5.69px;top:1448.44px;font-size:19.8px;line-height:24px;color:#808080;transform:scaleX(1.0153);">Hispanics are of any race. No answer responses not shown.</div>
<div class="t" style="left:5.88px;top:1476.74px;font-size:19.8px;line-height:24px;color:#808080;transform:scaleX(1.0280);">Source: Survey of U.S. adults conducted March 19-24, 2020.</div>
<div class="t b" style="left:6.12px;top:1515.11px;font-size:19.3px;line-height:23px;color:#000;transform:scaleX(0.9399);">PEW RESEARCH CENTER</div>
</div></body></html>
